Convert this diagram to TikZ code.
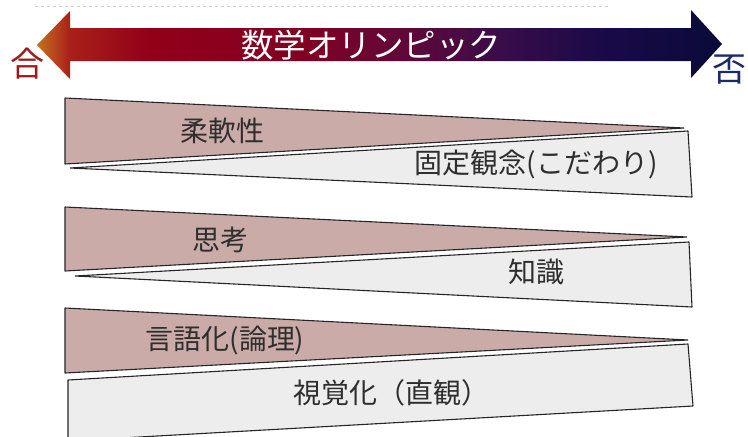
\documentclass[tikz,border=0pt]{standalone}
\usepackage{fontspec}
\setmainfont{Noto Sans CJK JP}
\definecolor{tipor}{HTML}{C8701E}
\definecolor{cA}{HTML}{A8201A}
\definecolor{cB}{HTML}{920018}
\definecolor{cC}{HTML}{820022}
\definecolor{cD}{HTML}{620838}
\definecolor{cE}{HTML}{3A0C4A}
\definecolor{cF}{HTML}{1A0A48}
\definecolor{cG}{HTML}{0A0A3A}
\definecolor{pinkfill}{HTML}{CBABA8}
\definecolor{greyfill}{HTML}{EDEDEE}
\definecolor{edge}{HTML}{262626}
\definecolor{txt}{HTML}{2E2E2E}
\definecolor{goured}{HTML}{9B1C1C}
\definecolor{hinavy}{HTML}{1B2A6B}
\pgfdeclarehorizontalshading{olyshade}{100bp}{color(0bp)=(tipor); color(25bp)=(tipor); color(27.4bp)=(cA); color(33.2bp)=(cB); color(44.2bp)=(cC); color(51.5bp)=(cD); color(58.8bp)=(cE); color(66.1bp)=(cF); color(75bp)=(cG); color(100bp)=(cG)}
\tikzset{
  pinkband/.style={fill=pinkfill, draw=edge, line width=1.1pt, line join=bevel},
  greyband/.style={fill=greyfill, draw=edge, line width=1.1pt, line join=bevel},
  bandtext/.style={text=txt, inner sep=0pt, font=\fontsize{28}{30}\selectfont},
  endlabel/.style={inner sep=0pt, font=\fontsize{34}{36}\selectfont},
}
\begin{document}
\begin{tikzpicture}[x=1pt,y=-1pt]
\useasboundingbox (0,0) rectangle (748,437);
\fill[white] (0,0) rectangle (748,437);
% faint dashed line at top
\draw[draw=black!18, dashed, line width=0.6pt] (35,6) -- (610,6);
% double arrow
\shade[shading=olyshade] (37,45) -- (70,11) -- (70,28) -- (691,28) -- (691,10) -- (722,44)
  -- (691,78) -- (691,61) -- (70,61) -- (70,79) -- cycle;
\node[text=white, inner sep=0pt, font=\fontsize{32.5}{34}\selectfont] (title) at (371,45) {数学オリンピック};
\node[endlabel, text=goured] (gou) at (27,64) {合};
\node[endlabel, text=hinavy] (hi) at (729,70) {否};
% band 1
\draw[pinkband] (65,98) -- (684,128) -- (65,164) -- cycle;
\draw[greyband] (70,168) -- (688,131) -- (692,197) -- cycle;
\node[bandtext] (juunan) at (222,131) {柔軟性};
\node[bandtext] (kotei) at (536,164) {固定観念(こだわり)};
% band 2
\draw[pinkband] (65,207) -- (687,237) -- (65,271) -- cycle;
\draw[greyband] (75,276) -- (689,242) -- (692,307) -- cycle;
\node[bandtext] (shikou) at (220,240) {思考};
\node[bandtext] (chishiki) at (536,272) {知識};
% band 3
\draw[pinkband] (65,308) -- (688,340) -- (65,373) -- cycle;
\draw[greyband] (68,380) -- (688,344) -- (693,406) -- (68,441) -- cycle;
\node[bandtext] (gengo) at (225,341) {言語化(論理)};
\node[bandtext] (shikaku) at (391,393) {視覚化（直観）};
\end{tikzpicture}
\end{document}
